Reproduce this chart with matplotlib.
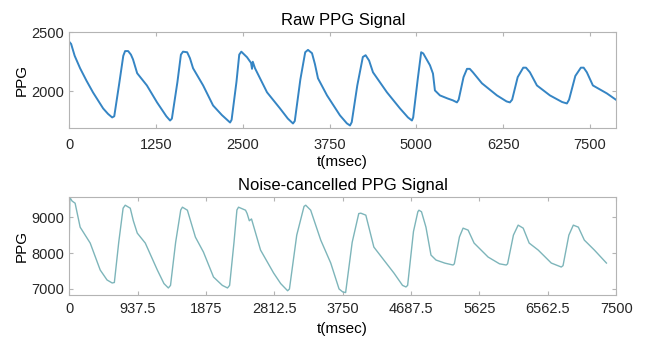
import matplotlib.pyplot as plt

plt.rcParams["font.family"] = ["Liberation Sans", "DejaVu Sans"]

# raw PPG signal
raw_t = [0, 29, 80, 158, 250, 345, 490, 560, 620, 650,
         720, 780, 806, 850, 890, 920, 980, 1120, 1266, 1400, 1454, 1480,
         1560, 1610, 1640, 1700, 1740, 1785, 1930, 2073, 2200, 2318, 2340,
         2410, 2450, 2480, 2562, 2620, 2634, 2645, 2677, 2850, 3037, 3150, 3224, 3250,
         3330, 3400, 3440, 3498, 3540, 3584, 3714, 3901, 4000, 4045, 4070,
         4150, 4230, 4270, 4320, 4376, 4577, 4765, 4880, 4937, 4955,
         5020, 5070, 5100, 5197, 5240, 5268, 5340, 5450, 5527, 5585, 5610,
         5680, 5730, 5770, 5815, 5945, 6161, 6300, 6348, 6380,
         6460, 6540, 6580, 6636, 6737, 6924, 7100, 7169, 7200,
         7290, 7370, 7410, 7456, 7543, 7744, 7888]
raw_ppg = [2420, 2400, 2300, 2195, 2090, 1990, 1856, 1810, 1780, 1790,
           2060, 2300, 2340, 2340, 2310, 2270, 2153, 2050, 1907, 1790, 1754, 1770,
           2080, 2310, 2335, 2330, 2280, 2195, 2050, 1881, 1800, 1737, 1760,
           2080, 2310, 2335, 2288, 2240, 2190, 2250, 2195, 1992, 1856, 1770, 1729, 1750,
           2100, 2330, 2350, 2322, 2230, 2110, 1966, 1797, 1730, 1712, 1740,
           2050, 2290, 2305, 2260, 2161, 1992, 1856, 1780, 1754, 1780,
           2100, 2330, 2320, 2220, 2150, 2008, 1966, 1940, 1924, 1907, 1930,
           2120, 2190, 2190, 2161, 2068, 1966, 1915, 1907, 1930,
           2120, 2200, 2200, 2161, 2050, 1966, 1910, 1898, 1930,
           2130, 2200, 2200, 2161, 2050, 1983, 1924]

# noise-cancelled PPG signal
nc_t = [0, 10, 40, 82, 151, 289, 426, 520, 590, 620,
        680, 740, 769, 838, 880, 934, 1044, 1209, 1300, 1360, 1390,
        1460, 1530, 1553, 1621, 1731, 1841, 1979, 2100, 2171, 2200,
        2260, 2300, 2322, 2418, 2440, 2470, 2500, 2624, 2803, 2900, 2995, 3020,
        3120, 3220, 3243, 3311, 3449, 3586, 3700, 3751, 3790,
        3880, 3970, 3998, 4067, 4177, 4314, 4452, 4570, 4617, 4640,
        4720, 4780, 4795, 4830, 4891, 4960, 5029, 5150, 5262, 5280,
        5350, 5400, 5469, 5551, 5743, 5900, 5991, 6010,
        6090, 6155, 6224, 6306, 6430, 6609, 6746, 6770,
        6850, 6911, 6980, 7062, 7200, 7365]
nc_ppg = [8100, 9550, 9450, 9389, 8722, 8278, 7528, 7250, 7167, 7180,
          8300, 9250, 9333, 9250, 8900, 8556, 8278, 7528, 7150, 7028, 7100,
          8300, 9200, 9278, 9194, 8444, 8028, 7333, 7100, 7028, 7100,
          8300, 9200, 9278, 9194, 9100, 8900, 8950, 8083, 7444, 7150, 6950, 7000,
          8500, 9300, 9333, 9194, 8361, 7722, 7000, 6917, 6900,
          8300, 9100, 9111, 9056, 8167, 7806, 7444, 7100, 7056, 7100,
          8600, 9150, 9194, 9150, 8722, 7944, 7806, 7720, 7667, 7700,
          8450, 8694, 8639, 8278, 7889, 7700, 7667, 7700,
          8500, 8778, 8694, 8278, 8083, 7722, 7611, 7650,
          8500, 8778, 8722, 8361, 8083, 7722]

raw_xticks = [0, 1250, 2500, 3750, 5000, 6250, 7500]
nc_xticks = [0, 937.5, 1875, 2812.5, 3750, 4687.5, 5625, 6562.5, 7500]
nc_xticklabels = ["0", "937.5", "1875", "2812.5", "3750", "4687.5", "5625", "6562.5", "7500"]


def style_axes(ax):
    for s in ax.spines.values():
        s.set_color("#b4b4b4")
        s.set_linewidth(0.8)
    ax.tick_params(direction="in", top=True, right=True, length=3,
                   color="#b4b4b4", labelsize=10.5, labelcolor="#262626")


fig = plt.figure(figsize=(6.46, 3.38), dpi=100)

ax1 = fig.add_axes([0.107, 0.621, 0.847, 0.284])
ax1.plot(raw_t, raw_ppg, color="#3585c4", lw=1.4)
ax1.set_xlim(0, 7880)
ax1.set_ylim(1690, 2500)
ax1.set_xticks(raw_xticks)
ax1.set_yticks([2000, 2500])
ax1.set_title("Raw PPG Signal", fontsize=12, pad=5)
ax1.set_xlabel("t(msec)", fontsize=11, labelpad=2)
ax1.set_ylabel("PPG", fontsize=11, labelpad=2)
style_axes(ax1)
ax1.tick_params(axis="x", pad=7)

ax2 = fig.add_axes([0.107, 0.127, 0.847, 0.290])
ax2.plot(nc_t, nc_ppg, color="#7db5ba", lw=1.0)
ax2.set_xlim(0, 7500)
ax2.set_ylim(6830, 9560)
ax2.set_xticks(nc_xticks)
ax2.set_xticklabels(nc_xticklabels)
ax2.set_yticks([7000, 8000, 9000])
ax2.set_title("Noise-cancelled PPG Signal", fontsize=12, pad=5)
ax2.set_xlabel("t(msec)", fontsize=11, labelpad=4)
ax2.set_ylabel("PPG", fontsize=11, labelpad=2)
style_axes(ax2)
ax2.tick_params(axis="x", pad=5)

fig.savefig("out.png", dpi=100)
